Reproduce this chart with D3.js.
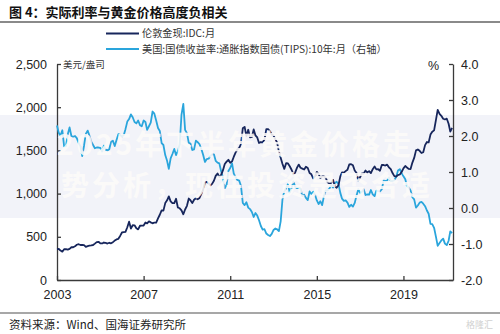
<!DOCTYPE html>
<html>
<head>
<meta charset="utf-8">
<script src="https://cdn.jsdelivr.net/npm/d3@7"></script>
<style>
  body { margin: 0; background: #fff; }
  svg { display: block; }
  .axis path, .axis line { stroke: #3a3a3a; stroke-width: 1.3; }
  .axis text { font-family: "Liberation Sans", Arial, sans-serif; font-size: 12.5px; fill: #222; }
</style>
</head>
<body>
<svg id="chart" width="500" height="334"></svg>
<script>
// Monthly series, January 2003 through April 2021
const firstMonth = new Date(2003, 0, 1);
const axisEnd = new Date(2021, 3, 16);

// London gold spot, monthly average (USD/oz)
const goldPrice = [
  357, 359, 341, 328, 356, 356, 351, 360, 379, 379, 390, 408,
  414, 405, 407, 403, 384, 392, 398, 401, 405, 421, 439, 442,
  424, 423, 434, 429, 422, 431, 425, 438, 456, 470, 477, 510,
  550, 555, 557, 611, 675, 596, 634, 633, 598, 586, 628, 630,
  631, 665, 655, 679, 667, 656, 665, 665, 713, 755, 806, 803,
  890, 922, 968, 910, 889, 890, 940, 839, 830, 807, 761, 816,
  859, 943, 924, 890, 929, 946, 934, 949, 997, 1043, 1127, 1135,
  1118, 1095, 1113, 1149, 1205, 1233, 1193, 1216, 1271, 1342, 1370, 1391,
  1356, 1373, 1424, 1474, 1510, 1529, 1573, 1756, 1772, 1665, 1739, 1652,
  1656, 1743, 1674, 1650, 1586, 1597, 1594, 1626, 1745, 1747, 1722, 1685,
  1672, 1628, 1593, 1488, 1414, 1342, 1286, 1352, 1349, 1317, 1276, 1222,
  1244, 1300, 1336, 1299, 1289, 1279, 1311, 1296, 1239, 1223, 1176, 1201,
  1251, 1227, 1179, 1199, 1199, 1182, 1131, 1118, 1125, 1159, 1086, 1068,
  1097, 1200, 1245, 1242, 1260, 1276, 1337, 1340, 1327, 1267, 1238, 1151,
  1192, 1234, 1231, 1267, 1246, 1260, 1237, 1283, 1314, 1280, 1282, 1265,
  1331, 1331, 1325, 1335, 1304, 1282, 1238, 1202, 1198, 1215, 1221, 1250,
  1292, 1320, 1301, 1286, 1284, 1359, 1413, 1500, 1511, 1495, 1470, 1479,
  1561, 1597, 1592, 1683, 1716, 1732, 1847, 1969, 1922, 1900, 1866, 1858,
  1867, 1808, 1718, 1760
];

// US 10-year TIPS yield, monthly (%)
const tipsYield = [
  2.29, 2.08, 2.01, 2.16, 1.71, 1.72, 2.04, 2.24, 2.00, 1.98, 2.00, 1.94,
  1.81, 1.71, 1.44, 1.73, 2.06, 2.15, 2.01, 1.84, 1.75, 1.66, 1.68, 1.68,
  1.67, 1.57, 1.73, 1.62, 1.60, 1.63, 1.84, 1.87, 1.72, 1.89, 2.05, 2.03,
  1.98, 2.03, 2.19, 2.40, 2.47, 2.60, 2.52, 2.39, 2.35, 2.43, 2.30, 2.27,
  2.43, 2.39, 2.17, 2.27, 2.37, 2.68, 2.62, 2.43, 2.22, 2.14, 1.80, 1.75,
  1.47, 1.31, 1.09, 1.38, 1.50, 1.64, 1.47, 1.58, 1.77, 2.59, 2.89, 2.17,
  2.08, 1.81, 1.79, 1.61, 1.63, 1.87, 1.83, 1.77, 1.64, 1.48, 1.28, 1.36,
  1.37, 1.44, 1.49, 1.49, 1.31, 1.26, 1.24, 1.02, 0.84, 0.55, 0.64, 1.03,
  1.11, 1.24, 0.96, 0.86, 0.78, 0.76, 0.62, 0.14, 0.08, 0.16, 0.01, -0.03,
  -0.11, -0.25, -0.14, -0.21, -0.34, -0.50, -0.60, -0.59, -0.71, -0.75, -0.78, -0.72,
  -0.61, -0.57, -0.59, -0.64, -0.37, 0.25, 0.46, 0.55, 0.66, 0.43, 0.55, 0.74,
  0.59, 0.55, 0.56, 0.54, 0.33, 0.37, 0.28, 0.22, 0.46, 0.39, 0.45, 0.37,
  0.21, 0.11, 0.19, 0.08, 0.33, 0.49, 0.49, 0.54, 0.64, 0.57, 0.69, 0.73,
  0.67, 0.42, 0.26, 0.20, 0.21, 0.15, 0.03, 0.09, 0.04, 0.14, 0.35, 0.52,
  0.42, 0.45, 0.52, 0.36, 0.38, 0.37, 0.50, 0.38, 0.33, 0.48, 0.47, 0.46,
  0.52, 0.76, 0.75, 0.76, 0.85, 0.75, 0.75, 0.77, 0.87, 1.04, 1.08, 0.97,
  0.88, 0.80, 0.61, 0.57, 0.49, 0.30, 0.24, 0.01, 0.07, 0.15, 0.17, 0.12,
  0.05, -0.07, -0.16, -0.44, -0.45, -0.55, -0.79, -1.05, -0.97, -0.90, -0.85, -0.99,
  -1.03, -0.91, -0.65, -0.70
];

const yearTicks = [2003, 2007, 2011, 2015, 2019];
const leftTicks = [0, 500, 1000, 1500, 2000, 2500];
const rightTicks = [-2, -1, 0, 1, 2, 3, 4];

const titleText = "图 4：实际利率与黄金价格高度负相关";
const seriesNames = ["伦敦金现:IDC:月", "美国:国债收益率:通胀指数国债(TIPS):10年:月（右轴）"];
const leftUnit = "美元/盎司";
const rightUnit = "%";
const sourceText = "资料来源：Wind、国海证券研究所";
const bannerLines = ["2025年下半年黄金价格走", "势分析，现在投资是否合适"];

const goldColor = "#17265c";
const tipsColor = "#2aa5dc";

const svg = d3.select("#chart");

const x = d3.scaleTime().domain([firstMonth, axisEnd]).range([57, 453]);
const yL = d3.scaleLinear().domain([0, 2500]).range([280, 64]);
const yR = d3.scaleLinear().domain([-2, 4]).range([280, 64]);

const monthDate = i => d3.timeMonth.offset(firstMonth, i);

// Title and rules
svg.append("text")
  .attr("x", 9).attr("y", 17)
  .attr("font-family", "'Noto Sans CJK SC', sans-serif")
  .attr("font-weight", "bold").attr("font-size", 13).attr("fill", "#111")
  .text(titleText);
svg.append("line").attr("x1", 0).attr("x2", 500).attr("y1", 22).attr("y2", 22)
  .attr("stroke", "#8a8a8a").attr("stroke-width", 2);
svg.append("line").attr("x1", 0).attr("x2", 500).attr("y1", 313).attr("y2", 313)
  .attr("stroke", "#8a8a8a").attr("stroke-width", 1.5);
svg.append("text")
  .attr("x", 9).attr("y", 329)
  .attr("font-family", "'Noto Sans CJK SC', sans-serif")
  .attr("font-size", 11.5).attr("fill", "#222")
  .text(sourceText);

// Pale band behind the plot middle
svg.append("rect").attr("x", 0).attr("y", 115).attr("width", 500).attr("height", 103)
  .attr("fill", "#f2f3f9");

// Legend
const legend = svg.append("g");
[goldColor, tipsColor].forEach((c, i) => {
  const ly = 33.5 + i * 15.5;
  legend.append("line").attr("x1", 106).attr("x2", 139).attr("y1", ly).attr("y2", ly)
    .attr("stroke", c).attr("stroke-width", 2.2);
  legend.append("text").attr("x", 142).attr("y", ly + 3.6)
    .attr("font-family", "'Noto Sans CJK SC', sans-serif")
    .attr("font-size", 10.2).attr("fill", "#333")
    .text(seriesNames[i]);
});

// Axes
svg.append("g").attr("class", "axis").attr("transform", "translate(57,0)")
  .call(d3.axisLeft(yL).tickValues(leftTicks).tickSizeInner(-4).tickSizeOuter(0)
    .tickPadding(10).tickFormat(d3.format(",")));
svg.append("g").attr("class", "axis").attr("transform", "translate(453,0)")
  .call(d3.axisRight(yR).tickValues(rightTicks).tickSizeInner(-4).tickSizeOuter(0)
    .tickPadding(8).tickFormat(d => d.toFixed(1)));
svg.append("g").attr("class", "axis").attr("transform", "translate(0,280)")
  .call(d3.axisBottom(x).tickValues(yearTicks.map(y => new Date(y, 0, 1)))
    .tickSizeInner(-4).tickSizeOuter(0).tickPadding(10).tickFormat(d3.timeFormat("%Y")));

svg.append("text").attr("x", 63).attr("y", 67.5)
  .attr("font-family", "'Noto Sans CJK SC', sans-serif")
  .attr("font-size", 9.5).attr("fill", "#333").text(leftUnit);
svg.append("text").attr("x", 428).attr("y", 70)
  .attr("font-family", "'Liberation Sans', Arial, sans-serif")
  .attr("font-size", 12.5).attr("fill", "#222").text(rightUnit);

// Series lines
const goldLine = d3.line().x((d, i) => x(monthDate(i))).y(d => yL(d));
const tipsLine = d3.line().x((d, i) => x(monthDate(i))).y(d => yR(d));

svg.append("path").datum(tipsYield).attr("d", tipsLine)
  .attr("fill", "none").attr("stroke", tipsColor).attr("stroke-width", 1.8)
  .attr("stroke-linejoin", "round");
svg.append("path").datum(goldPrice).attr("d", goldLine)
  .attr("fill", "none").attr("stroke", goldColor).attr("stroke-width", 1.8)
  .attr("stroke-linejoin", "round");

// Overlaid banner text
const banner = svg.append("g")
  .attr("font-family", "'Noto Sans CJK SC', sans-serif")
  .attr("font-weight", "bold").attr("font-size", 28)
  .attr("letter-spacing", 3)
  .attr("fill", "#fdfbfa").attr("fill-opacity", 0.9);
banner.append("text").attr("x", 57).attr("y", 155).text(bannerLines[0]);
banner.append("text").attr("x", 61).attr("y", 196).text(bannerLines[1]);

// Corner mark
svg.append("text").attr("x", 466).attr("y", 328)
  .attr("font-family", "'Noto Sans CJK SC', sans-serif")
  .attr("font-size", 9).attr("fill", "#d0d0d0").text("格隆汇");
</script>
</body>
</html>
